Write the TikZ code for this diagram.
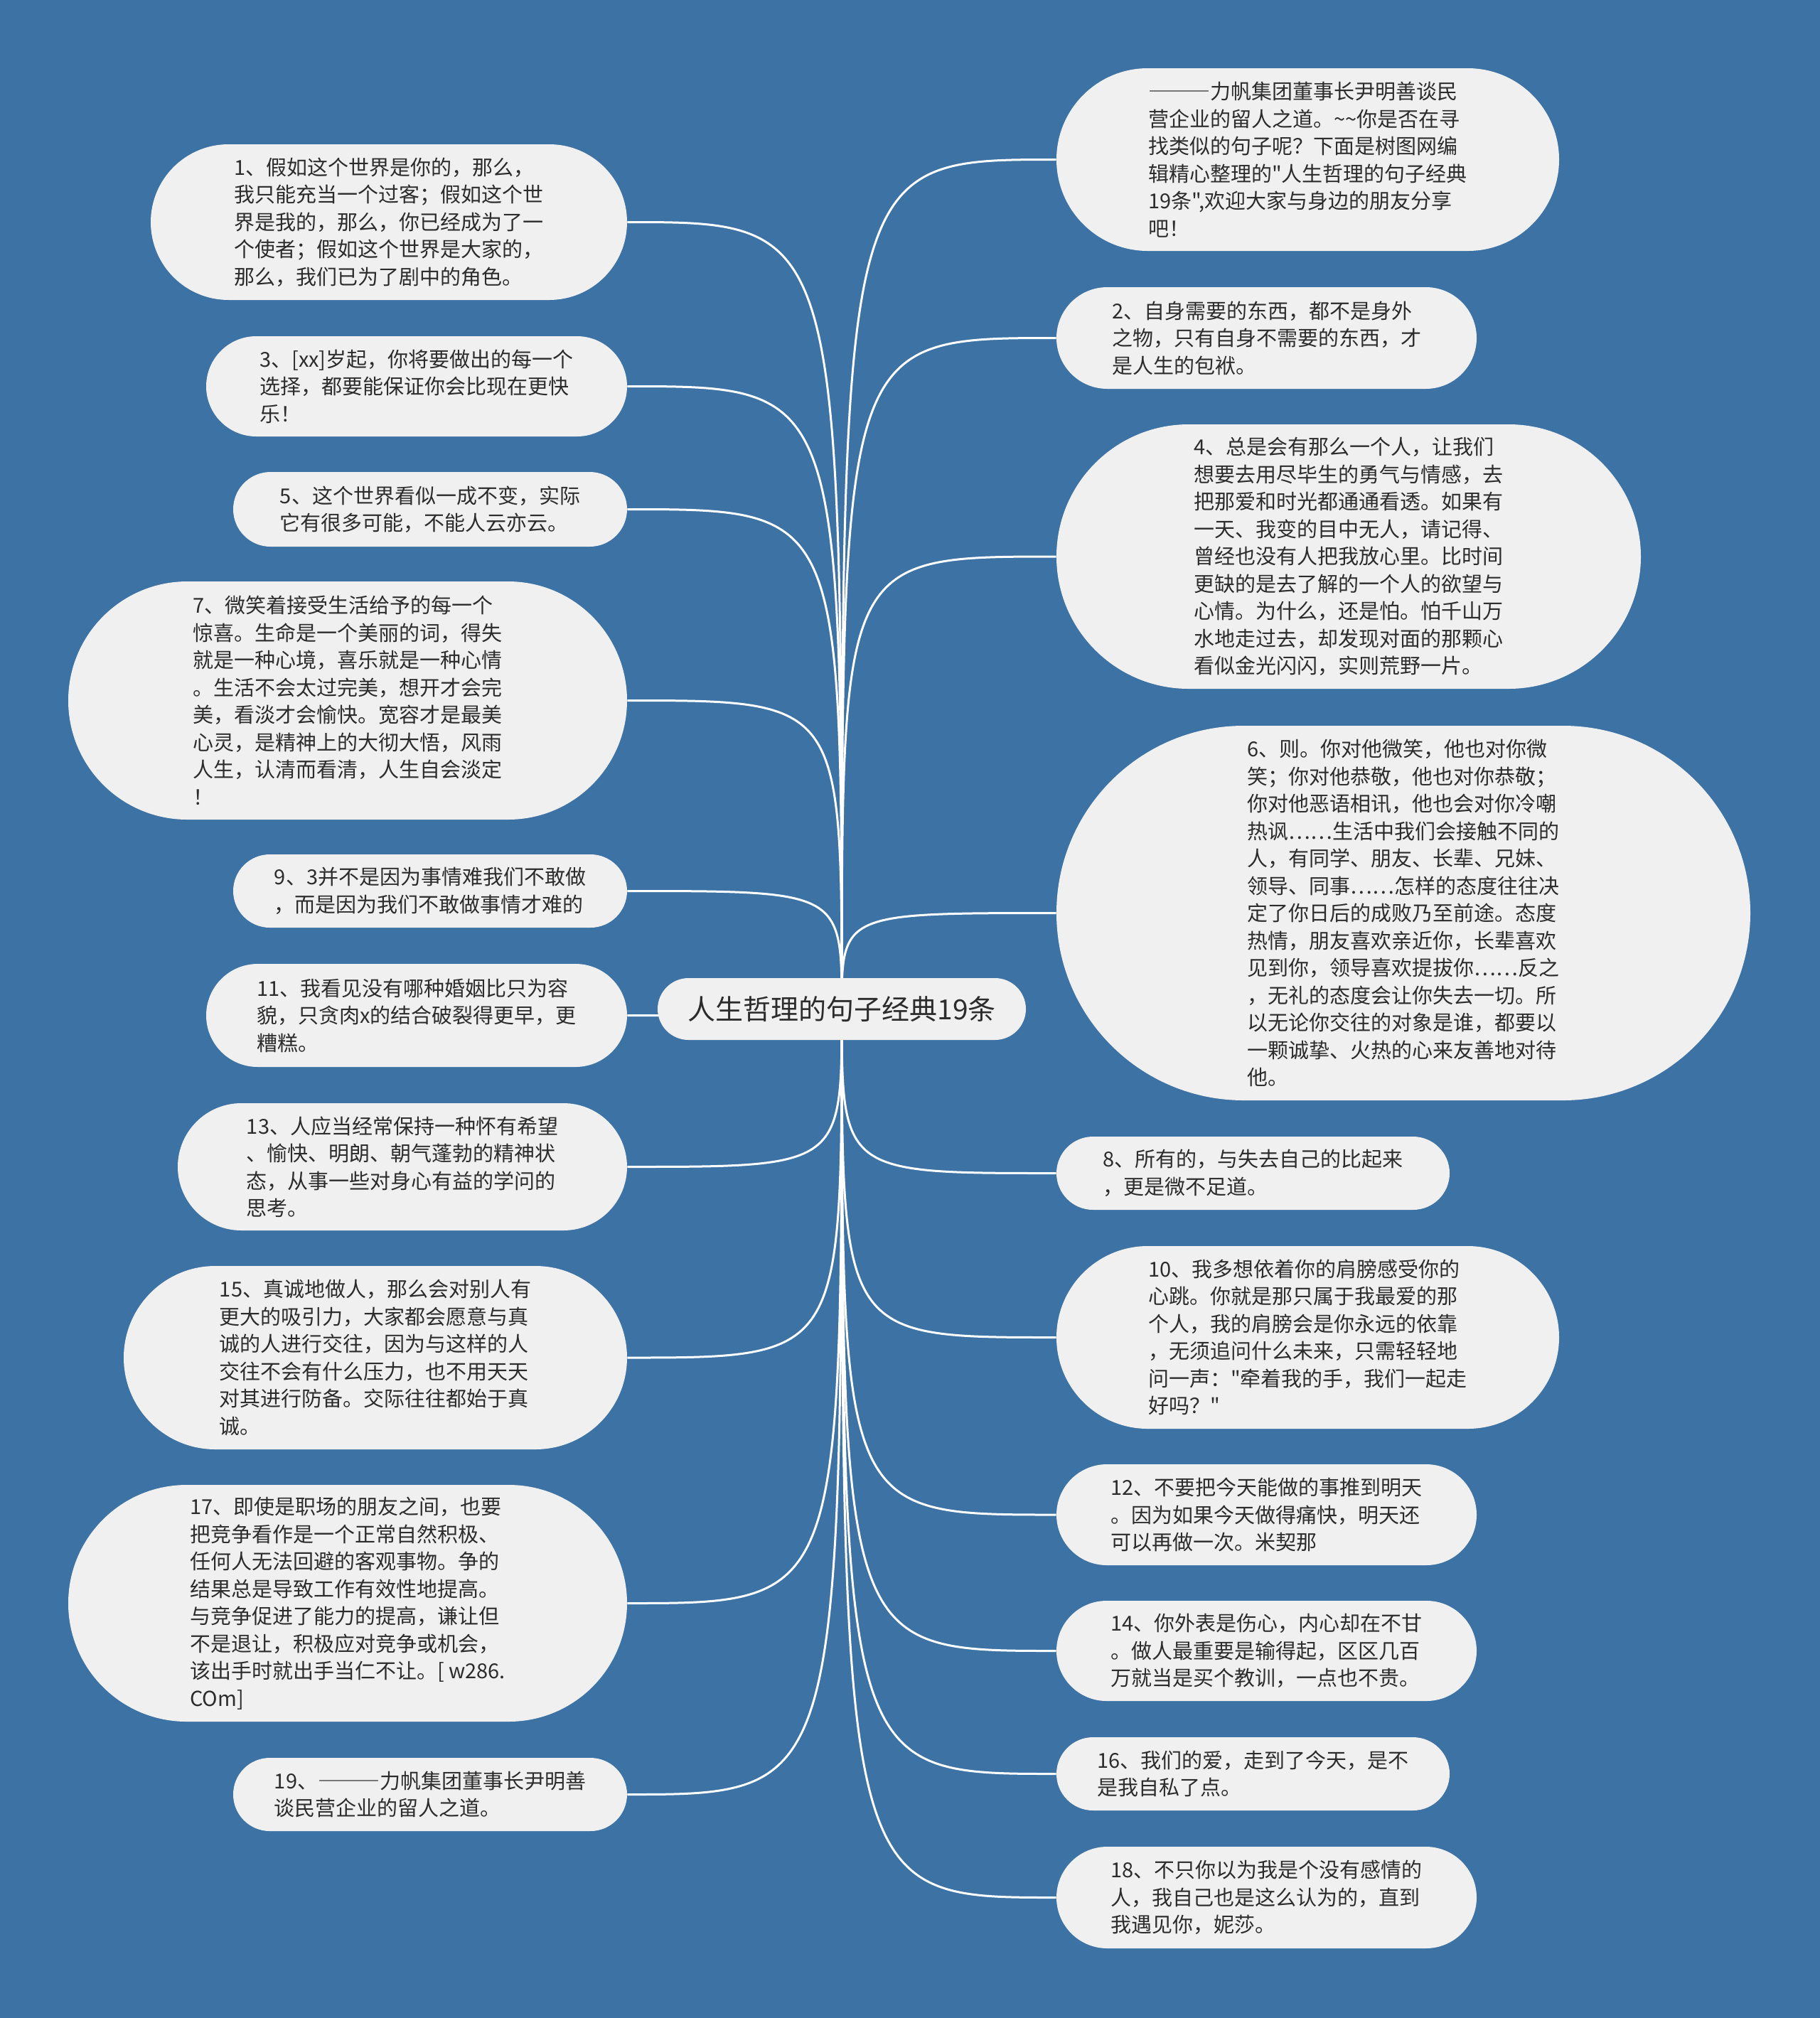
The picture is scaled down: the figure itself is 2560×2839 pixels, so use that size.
\documentclass[tikz,border=0pt]{standalone}
\usepackage{fontspec}
\newfontfamily\cjk{Noto Sans CJK SC}
\usetikzlibrary{shapes.misc,backgrounds}
\definecolor{bgblue}{HTML}{3D72A4}
\definecolor{boxfill}{HTML}{F0F0F0}
\definecolor{txt}{HTML}{2C2C2C}
\newcommand\fw[1]{{\addfontfeatures{CharacterWidth=Full}#1}}
\tikzset{
  leaf/.style={rounded rectangle, fill=boxfill, text=txt, align=left, inner sep=0pt,
    font=\cjk\fontsize{14.5pt}{19.25pt}\selectfont},
  rootnode/.style={rounded rectangle, fill=boxfill, text=txt, inner sep=0pt,
    font=\cjk\fontsize{19.5pt}{24pt}\selectfont},
  link/.style={draw=white, line width=1.5pt},
}
\newcommand\linkto[1]{\draw[link] (root.center) .. controls (root.center |- #1) and (root.center |- #1) .. (#1);}
\begin{document}
\begin{tikzpicture}[x=0.5pt,y=-0.5pt]
% centre
\node[rootnode, minimum width=259pt, minimum height=43.5pt] (root) at (1184,1419.5) {人生哲理的句子经典19条};
% left side
\node[leaf, minimum width=335pt, minimum height=109.5pt] (n1) at (547,312.5) {1、假如这个世界是你的，那么，\\我只能充当一个过客；假如这个世\\界是我的，那么，你已经成为了一\\个使者；假如这个世界是大家的，\\那么，我们已为了剧中的角色。};
\node[leaf, minimum width=296pt, minimum height=70.5pt] (n3) at (586,543.5) {3、[xx]岁起，你将要做出的每一个\\选择，都要能保证你会比现在更快\\乐！};
\node[leaf, minimum width=277pt, minimum height=52.5pt] (n5) at (605,716.5) {5、这个世界看似一成不变，实际\\它有很多可能，不能人云亦云。};
\node[leaf, minimum width=393pt, minimum height=167.5pt] (n7) at (489,985.5) {7、微笑着接受生活给予的每一个\\惊喜。生命是一个美丽的词，得失\\就是一种心境，喜乐就是一种心情\\。生活不会太过完美，想开才会完\\美，看淡才会愉快。宽容才是最美\\心灵，是精神上的大彻大悟，风雨\\人生，认清而看清，人生自会淡定\\！};
\node[leaf, minimum width=277pt, minimum height=51.5pt] (n9) at (605,1253.5) {9、3并不是因为事情难我们不敢做\\，而是因为我们不敢做事情才难的};
\node[leaf, minimum width=296pt, minimum height=72.5pt] (n11) at (586,1428.5) {11、我看见没有哪种婚姻比只为容\\貌，只贪肉x的结合破裂得更早，更\\糟糕。};
\node[leaf, minimum width=316pt, minimum height=89.5pt] (n13) at (566,1641.5) {13、人应当经常保持一种怀有希望\\、愉快、明朗、朝气蓬勃的精神状\\态，从事一些对身心有益的学问的\\思考。};
\node[leaf, minimum width=354pt, minimum height=129pt] (n15) at (528,1910) {15、真诚地做人，那么会对别人有\\更大的吸引力，大家都会愿意与真\\诚的人进行交往，因为与这样的人\\交往不会有什么压力，也不用天天\\对其进行防备。交际往往都始于真\\诚。};
\node[leaf, minimum width=393pt, minimum height=166.5pt] (n17) at (489,2255.5) {17、即使是职场的朋友之间，也要\\把竞争看作是一个正常自然积极、\\任何人无法回避的客观事物。争的\\结果总是导致工作有效性地提高。\\与竞争促进了能力的提高，谦让但\\不是退让，积极应对竞争或机会，\\该出手时就出手当仁不让。[ w286.\\COm]};
\node[leaf, minimum width=277pt, minimum height=51.5pt] (n19) at (605,2524.5) {19、\fw{———}力帆集团董事长尹明善\\谈民营企业的留人之道。};
% right side
\node[leaf, minimum width=353.5pt, minimum height=128.5pt] (ni) at (1839.5,224.5) {\fw{———}力帆集团董事长尹明善谈民\\营企业的留人之道。\textasciitilde\textasciitilde 你是否在寻\\找类似的句子呢？下面是树图网编\\辑精心整理的"人生哲理的句子经典\\19条",欢迎大家与身边的朋友分享\\吧！};
\node[leaf, minimum width=295.5pt, minimum height=71.5pt] (n2) at (1781.5,475.5) {2、自身需要的东西，都不是身外\\之物，只有自身不需要的东西，才\\是人生的包袱。};
\node[leaf, minimum width=411pt, minimum height=186pt] (n4) at (1897,783) {4、总是会有那么一个人，让我们\\想要去用尽毕生的勇气与情感，去\\把那爱和时光都通通看透。如果有\\一天、我变的目中无人，请记得、\\曾经也没有人把我放心里。比时间\\更缺的是去了解的一个人的欲望与\\心情。为什么，还是怕。怕千山万\\水地走过去，却发现对面的那颗心\\看似金光闪闪，实则荒野一片。};
\node[leaf, minimum width=488pt, minimum height=263.5pt] (n6) at (1974,1284.5) {6、则。你对他微笑，他也对你微\\笑；你对他恭敬，他也对你恭敬；\\你对他恶语相讯，他也会对你冷嘲\\热讽……生活中我们会接触不同的\\人，有同学、朋友、长辈、兄妹、\\领导、同事……怎样的态度往往决\\定了你日后的成败乃至前途。态度\\热情，朋友喜欢亲近你，长辈喜欢\\见到你，领导喜欢提拔你……反之\\，无礼的态度会让你失去一切。所\\以无论你交往的对象是谁，都要以\\一颗诚挚、火热的心来友善地对待\\他。};
\node[leaf, minimum width=276.5pt, minimum height=51.5pt] (n8) at (1762.5,1650.5) {8、所有的，与失去自己的比起来\\，更是微不足道。};
\node[leaf, minimum width=353.5pt, minimum height=128.5pt] (n10) at (1839.5,1881.5) {10、我多想依着你的肩膀感受你的\\心跳。你就是那只属于我最爱的那\\个人，我的肩膀会是你永远的依靠\\，无须追问什么未来，只需轻轻地\\问一声："牵着我的手，我们一起走\\好吗？"};
\node[leaf, minimum width=295.5pt, minimum height=71pt] (n12) at (1781.5,2131) {12、不要把今天能做的事推到明天\\。因为如果今天做得痛快，明天还\\可以再做一次。米契那};
\node[leaf, minimum width=295.5pt, minimum height=70.5pt] (n14) at (1781.5,2322.5) {14、你外表是伤心，内心却在不甘\\。做人最重要是输得起，区区几百\\万就当是买个教训，一点也不贵。};
\node[leaf, minimum width=276.5pt, minimum height=51.5pt] (n16) at (1762.5,2495.5) {16、我们的爱，走到了今天，是不\\是我自私了点。};
\node[leaf, minimum width=295.5pt, minimum height=71.5pt] (n18) at (1781.5,2669.5) {18、不只你以为我是个没有感情的\\人，我自己也是这么认为的，直到\\我遇见你，妮莎。};
\begin{pgfonlayer}{background}
\fill[bgblue] (0,0) rectangle (2560,2839);
\foreach \n in {n1,n3,n5,n7,n9,n11,n13,n15,n17,n19}{\linkto{\n.east}}
\foreach \n in {ni,n2,n4,n6,n8,n10,n12,n14,n16,n18}{\linkto{\n.west}}
\end{pgfonlayer}
\end{tikzpicture}
\end{document}
